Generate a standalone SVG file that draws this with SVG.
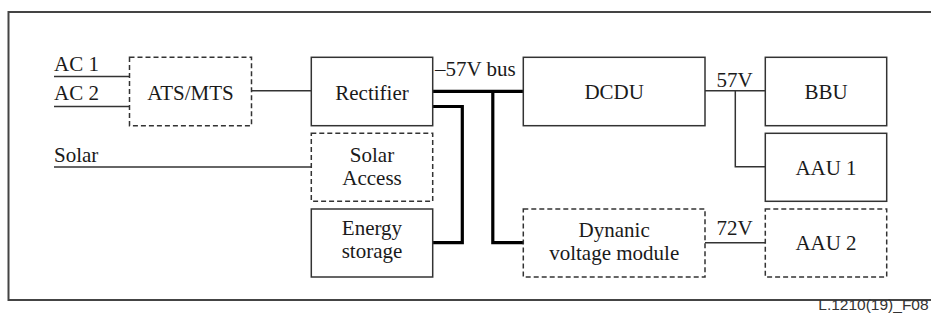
<svg xmlns="http://www.w3.org/2000/svg" width="931" height="322" viewBox="0 0 931 322">
<style>
.box{fill:#fff;stroke:#333;stroke-width:1.5}
.dash{fill:#fff;stroke:#333;stroke-width:1.5;stroke-dasharray:5 3}
.t{font-family:"Liberation Serif","Times New Roman",serif;font-size:21px;fill:#1a1a1a}
.c{text-anchor:middle}
.ln{fill:none;stroke:#333;stroke-width:1.5}
.bus{fill:none;stroke:#000;stroke-width:3.2}
</style>
<rect x="8.5" y="12" width="940" height="288" fill="#fff" stroke="#444" stroke-width="2"/>
<g id="connectors">
<line class="ln" x1="54" y1="76.5" x2="129.5" y2="76.5"/>
<line class="ln" x1="54" y1="106.5" x2="129.5" y2="106.5"/>
<line class="ln" x1="251.5" y1="90.7" x2="311.3" y2="90.7"/>
<line class="ln" x1="54" y1="167" x2="311.3" y2="167"/>
<path class="bus" d="M432.7 91.3H523.3"/>
<path class="bus" d="M432.7 106.5H462.3V242.7H432.7"/>
<path class="bus" d="M492.8 91.3V242.7H523.3"/>
<path class="ln" d="M705 90.7H765.3M735.3 90.7V166.7H765.3"/>
<line class="ln" x1="705" y1="242.7" x2="765.3" y2="242.7"/>
<text class="t" x="435" y="76">–57V bus</text>
<text class="t" x="716.5" y="86.7">57V</text>
<text class="t" x="716.5" y="235">72V</text>
</g>
<g id="ac-labels">
<text class="t" x="54" y="70.7">AC 1</text>
<text class="t" x="54" y="100">AC 2</text>
<text class="t" x="54" y="162">Solar</text>
</g>
<g id="ats"><rect class="dash" x="129.5" y="57.3" width="122" height="68.4"/><text class="t c" x="190.5" y="100">ATS/MTS</text></g>
<g id="rectifier"><rect class="box" x="311.3" y="57.3" width="121.4" height="68.4"/><text class="t c" x="372" y="100">Rectifier</text></g>
<g id="solar-access"><rect class="dash" x="311.3" y="133.3" width="121.4" height="68"/><text class="t c" x="372" y="161.7">Solar</text><text class="t c" x="372" y="185">Access</text></g>
<g id="energy-storage"><rect class="box" x="311.3" y="209" width="121.4" height="68"/><text class="t c" x="372" y="235">Energy</text><text class="t c" x="372" y="258.3">storage</text></g>
<g id="dcdu"><rect class="box" x="523.3" y="57.3" width="181.7" height="68.4"/><text class="t c" x="614.2" y="98.7">DCDU</text></g>
<g id="dvm"><rect class="dash" x="523.3" y="209" width="181.7" height="68"/><text class="t c" x="614.2" y="236.5">Dynanic</text><text class="t c" x="614.2" y="260">voltage module</text></g>
<g id="bbu"><rect class="box" x="765.3" y="57.3" width="121.4" height="68.4"/><text class="t c" x="826" y="98.7">BBU</text></g>
<g id="aau1"><rect class="box" x="765.3" y="133.3" width="121.4" height="68"/><text class="t c" x="826" y="175">AAU 1</text></g>
<g id="aau2"><rect class="dash" x="765.3" y="209" width="121.4" height="68"/><text class="t c" x="826" y="250">AAU 2</text></g>
<text x="818.3" y="310" font-family="'Liberation Sans',Arial,sans-serif" font-size="15.5" fill="#333">L.1210(19)_F08</text>
</svg>
